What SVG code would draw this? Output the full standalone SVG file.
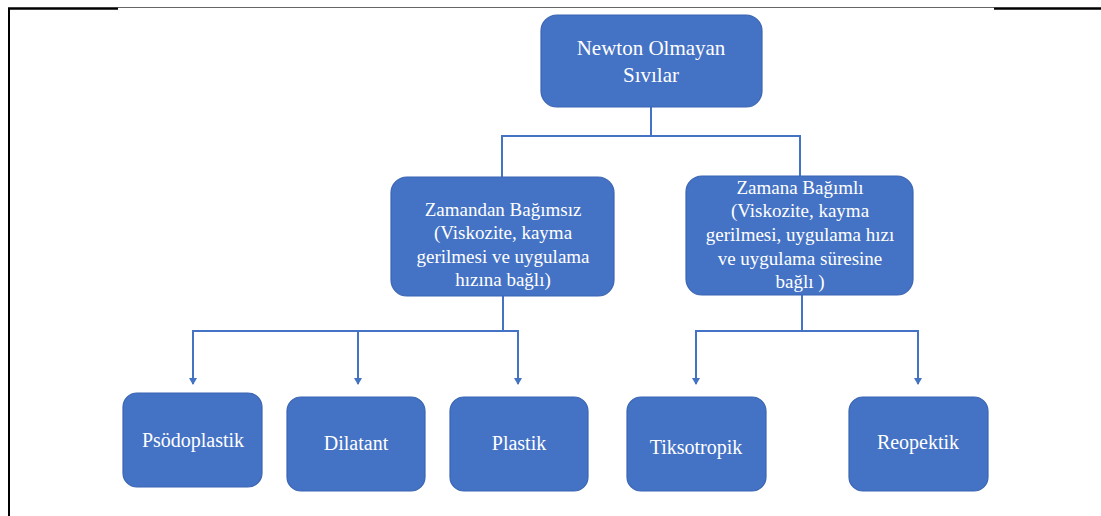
<svg xmlns="http://www.w3.org/2000/svg" width="1101" height="516" viewBox="0 0 1101 516">
<defs>
<style>
.node rect{fill:#4472C4;stroke:#3B65B3;stroke-width:1.2}
.node text{fill:#fff;font-family:"Liberation Serif","Times New Roman",serif;font-size:19px;text-anchor:middle}
.node text.big{font-size:21px}
.node text.leaf{font-size:20px}
.conn{fill:none;stroke:#4472C4;stroke-width:2}
.arrow{fill:#4472C4}
</style>
</defs>
<rect width="1101" height="516" fill="#fff"/>
<g id="frame">
<line x1="118" y1="7.5" x2="994" y2="7.5" stroke="#666" stroke-width="1.2"/>
<line x1="8" y1="8.5" x2="118" y2="8.5" stroke="#000" stroke-width="2.5"/>
<line x1="994" y1="8.5" x2="1101" y2="8.5" stroke="#000" stroke-width="2.5"/>
<line x1="9" y1="8" x2="9" y2="516" stroke="#000" stroke-width="2"/>
</g>
<g id="connectors">
<path class="conn" d="M651,107 V136 M502,177 V136 H800 V176"/>
<path class="conn" d="M503,296 V331 M193,384 V331 H518 V384 M358,331 V384"/>
<path class="conn" d="M802,295 V331 M696,384 V331 H918 V384"/>
<path class="arrow" d="M189,378 L197,378 L193,385 Z"/>
<path class="arrow" d="M354,378 L362,378 L358,385 Z"/>
<path class="arrow" d="M514,378 L522,378 L518,385 Z"/>
<path class="arrow" d="M692,378 L700,378 L696,385 Z"/>
<path class="arrow" d="M914,378 L922,378 L918,385 Z"/>
</g>
<g id="n-root" class="node">
<rect x="541" y="15" width="221" height="92" rx="16"/>
<text class="big" x="651" y="55">Newton Olmayan</text>
<text class="big" x="651" y="82">Sıvılar</text>
</g>
<g id="n-indep" class="node">
<rect x="391" y="177" width="223" height="119" rx="16"/>
<text x="503" y="216">Zamandan Bağımsız</text>
<text x="503" y="239">(Viskozite, kayma</text>
<text x="503" y="263">gerilmesi ve uygulama</text>
<text x="503" y="286">hızına bağlı)</text>
</g>
<g id="n-dep" class="node">
<rect x="686" y="176" width="227" height="119" rx="16"/>
<text x="800" y="194">Zamana Bağımlı</text>
<text x="800" y="217">(Viskozite, kayma</text>
<text x="800" y="241">gerilmesi, uygulama hızı</text>
<text x="800" y="265">ve uygulama süresine</text>
<text x="800" y="288">bağlı )</text>
</g>
<g id="n-psodo" class="node">
<rect x="123" y="393" width="139" height="94" rx="14"/>
<text class="leaf" x="193" y="447">Psödoplastik</text>
</g>
<g id="n-dilatant" class="node">
<rect x="287" y="397" width="138" height="94" rx="14"/>
<text class="leaf" x="356" y="450">Dilatant</text>
</g>
<g id="n-plastik" class="node">
<rect x="450" y="397" width="138" height="94" rx="14"/>
<text class="leaf" x="519" y="450">Plastik</text>
</g>
<g id="n-tikso" class="node">
<rect x="627" y="397" width="139" height="94" rx="14"/>
<text class="leaf" x="696" y="454">Tiksotropik</text>
</g>
<g id="n-reo" class="node">
<rect x="849" y="397" width="139" height="94" rx="14"/>
<text class="leaf" x="918" y="449">Reopektik</text>
</g>
</svg>
